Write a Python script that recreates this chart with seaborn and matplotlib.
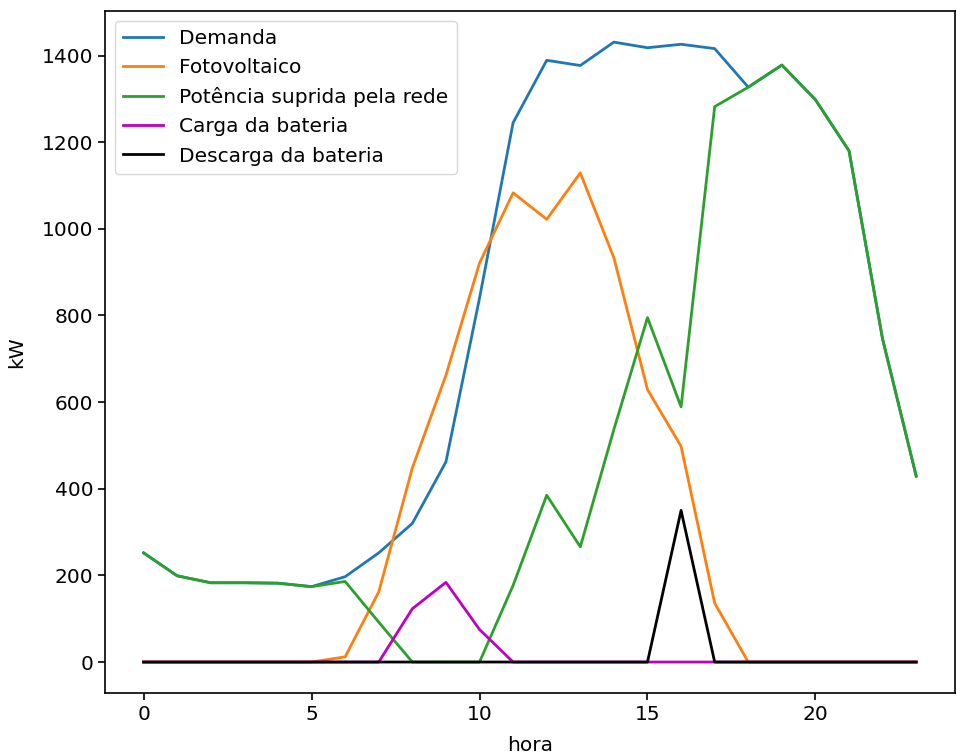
import matplotlib
matplotlib.use("Agg")
import matplotlib.pyplot as plt
import seaborn as sns
import numpy as np
import pandas as pd

hora = list(range(24))
demanda = [252, 199, 183, 183, 182, 174, 197, 252, 320, 462, 840, 1245,
           1389, 1377, 1431, 1418, 1426, 1416, 1327, 1378, 1298, 1180, 745, 429]
fotovoltaico = [0, 0, 0, 0, 0, 0, 12, 162, 448, 662, 921, 1083,
                1022, 1129, 933, 629, 498, 136, 0, 0, 0, 0, 0, 0]
rede = [252, 199, 183, 183, 182, 174, 186, 92, 0, 0, 0, 177,
        385, 266, 537, 795, 589, 1282, 1327, 1378, 1298, 1180, 745, 429]
carga = [0, 0, 0, 0, 0, 0, 0, 0, 123, 184, 75, 0,
         0, 0, 0, 0, 0, 0, 0, 0, 0, 0, 0, 0]
descarga = [0, 0, 0, 0, 0, 0, 0, 0, 0, 0, 0, 0,
            0, 0, 0, 0, 350, 0, 0, 0, 0, 0, 0, 0]

labels = ["Demanda", "Fotovoltaico", "Potência suprida pela rede",
          "Carga da bateria", "Descarga da bateria"]
series = [demanda, fotovoltaico, rede, carga, descarga]
colors = ["#1f77b4", "#ff7f0e", "#2ca02c", "#bf00bf", "k"]

plt.rcParams.update({
    "font.size": 14.5,
    "axes.linewidth": 1.2,
    "xtick.major.size": 5,
    "ytick.major.size": 5,
    "xtick.major.width": 1.2,
    "ytick.major.width": 1.2,
})

fig = plt.figure(figsize=(9.56, 7.56), dpi=100)
ax = fig.add_axes([0.1098, 0.0833, 0.889, 0.902])
for lab, vals, c in zip(labels, series, colors):
    sns.lineplot(x=hora, y=vals, ax=ax, color=c, label=lab, linewidth=2.0)

ax.set_xlabel("hora", labelpad=9)
ax.set_ylabel("kW", labelpad=11)
ax.set_xticks([0, 5, 10, 15, 20])
ax.legend(loc="upper left")
fig.savefig("out.png", dpi=100)
